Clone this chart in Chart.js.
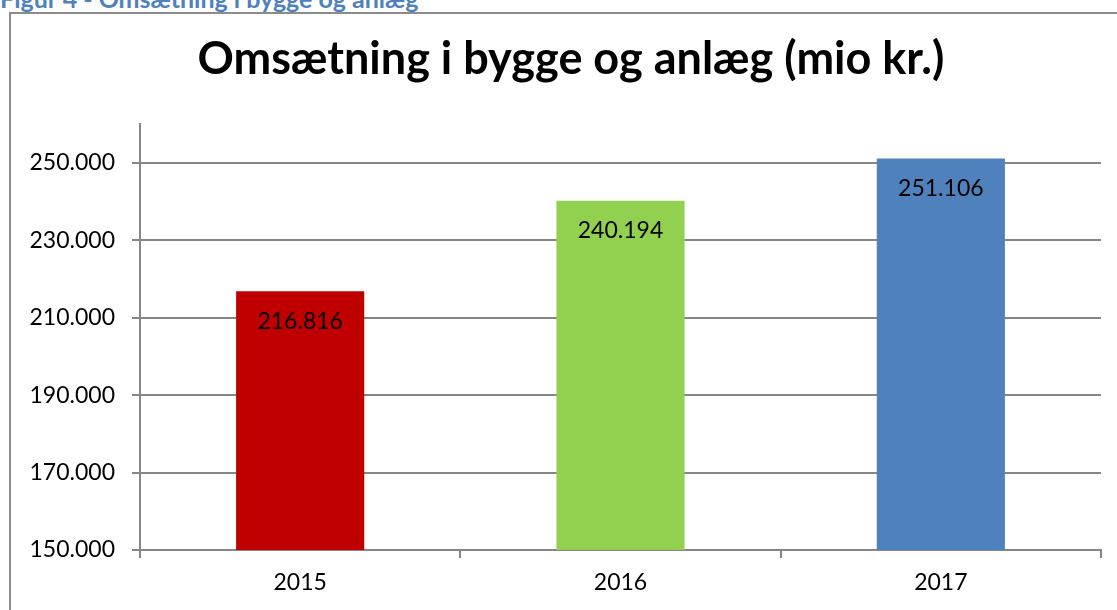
<!DOCTYPE html>
<html>
<head>
<meta charset="utf-8">
<script src="https://cdn.jsdelivr.net/npm/chart.js@4"></script>
<style>
  html, body { margin: 0; padding: 0; background: #fff; overflow: hidden; }
  body { width: 1117px; height: 610px; position: relative; overflow: hidden; }
  #caption {
    position: absolute; left: 0; top: -14px;
    font-family: Lato, "Open Sans", sans-serif; font-weight: bold;
    font-size: 25px; line-height: 25px; color: #4f81bd; white-space: nowrap;
  }
  #frame {
    position: absolute; left: 9px; top: 12px; width: 1200px; height: 700px;
    border: 2px solid #8c8c8c; box-sizing: border-box;
  }
  #wrap { position: absolute; left: 11px; top: 14px; width: 1120px; height: 596px; }
</style>
</head>
<body>
<div id="caption">Figur 4 - Omsætning i bygge og anlæg</div>
<div id="frame"></div>
<div id="wrap"><canvas id="omsaetning-chart" width="1120" height="596"></canvas></div>
<script>
// Chart data
const years = ["2015", "2016", "2017"];
const revenue = [216816, 240194, 251106];
const barColours = ["#c00000", "#92d050", "#4f81bd"];
const yTicks = [150000, 170000, 190000, 210000, 230000, 250000];

const fontFamily = "Lato, 'Open Sans', sans-serif";

// Danish number format: 250000 -> 250.000
function formatDK(value) {
  return String(Math.round(value)).replace(/\B(?=(\d{3})+(?!\d))/g, ".");
}

// Draw the value inside the top of each bar
const barValueLabels = {
  id: "barValueLabels",
  afterDatasetsDraw(chart) {
    const ctx = chart.ctx;
    const meta = chart.getDatasetMeta(0);
    ctx.save();
    ctx.font = "23px " + fontFamily;
    ctx.fillStyle = "#000";
    ctx.textAlign = "center";
    ctx.textBaseline = "middle";
    meta.data.forEach((bar, i) => {
      ctx.fillText(formatDK(revenue[i]), bar.x, bar.y + 30);
    });
    ctx.restore();
  },
};

const ctx = document.getElementById("omsaetning-chart");
const myChart = new Chart(ctx, {
  type: "bar",
  data: {
    labels: years,
    datasets: [
      {
        label: "Omsætning",
        data: revenue,
        backgroundColor: barColours,
        barPercentage: 0.4,
        categoryPercentage: 1,
      },
    ],
  },
  options: {
    responsive: false,
    maintainAspectRatio: false,
    animation: false,
    devicePixelRatio: 1,
    layout: { padding: 0 },
    plugins: {
      legend: { display: false },
      tooltip: { enabled: false },
      title: {
        display: true,
        text: "Omsætning i bygge og anlæg (mio kr.)",
        color: "#000",
        font: { family: fontFamily, size: 45, weight: "bold" },
        padding: { top: 18, bottom: 38 },
      },
    },
    scales: {
      x: {
        grid: {
          display: true,
          drawOnChartArea: false,
          offset: true,
          color: "#868686",
          lineWidth: 2,
          tickLength: 8,
        },
        border: { color: "#868686", width: 2 },
        ticks: {
          color: "#000",
          font: { family: fontFamily, size: 23 },
          padding: 11,
        },
        afterFit(scale) {
          scale.height = 60;
        },
      },
      y: {
        min: 150000,
        max: 260000,
        afterBuildTicks(scale) {
          scale.ticks = yTicks.map((v) => ({ value: v }));
        },
        grid: { color: "#868686", lineWidth: 2, tickLength: 8 },
        border: { color: "#868686", width: 2 },
        ticks: {
          color: "#000",
          font: { family: fontFamily, size: 23 },
          padding: 17,
          callback: (v) => formatDK(v),
        },
        afterFit(scale) {
          scale.width = 129;
        },
      },
      // empty right-hand space so the plot stops where the original does
      yRight: {
        position: "right",
        min: 150000,
        max: 260000,
        grid: { display: false },
        border: { display: false },
        ticks: { display: false },
        afterFit(scale) {
          scale.width = 30;
        },
      },
    },
  },
  plugins: [barValueLabels],
});
</script>
</body>
</html>
